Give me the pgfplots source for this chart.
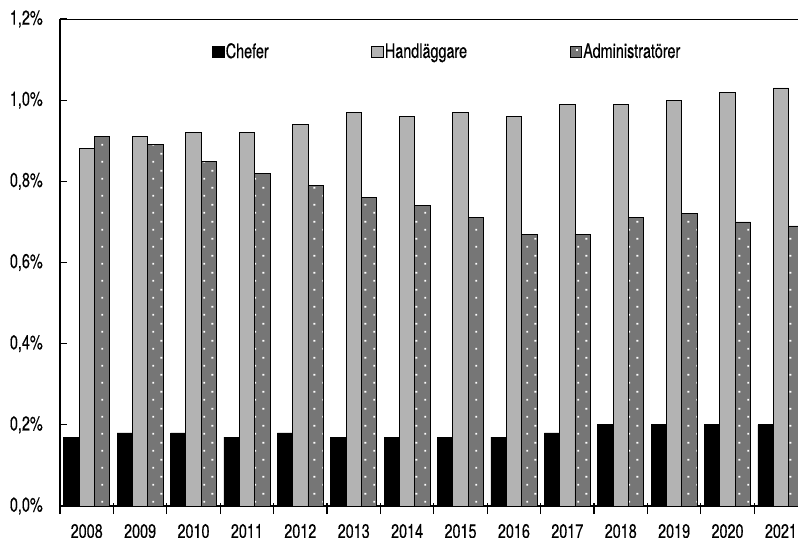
\documentclass[border=0pt]{standalone}
\usepackage{pgfplots}
\pgfplotsset{compat=1.18}
\usepackage{fontspec}
\setmainfont{TeX Gyre Heros}[FakeStretch=0.72, FakeBold=0.4]
\usetikzlibrary{patterns.meta}
\definecolor{hgray}{RGB}{179,179,179}
\definecolor{agray}{RGB}{118,118,118}
\tikzdeclarepattern{
  name=admdots,
  type=uncolored,
  bounding box={(0,0) and (12.5pt,12.75pt)},
  tile size={(12.5pt,12.75pt)},
  code={
    \fill (1pt,1pt) rectangle (2.4pt,2.4pt);
    \fill (7.25pt,7.4pt) rectangle (8.65pt,8.8pt);
  }
}
\begin{document}
\begin{tikzpicture}
\useasboundingbox (-45pt,-23.25pt) rectangle (553.5pt,379.5pt);
\begin{axis}[
  at={(0,0)}, anchor=south west,
  scale only axis, width=553.5pt, height=365.25pt,
  xmin=-0.5, xmax=13.32, ymin=0, ymax=1.2,
  axis x line*=bottom, axis y line*=left,
  axis line style={line width=1.1pt, -},
  ybar, bar width=11.5pt,
  xtick={0,...,13},
  xticklabels={2008,2009,2010,2011,2012,2013,2014,2015,2016,2017,2018,2019,2020,2021},
  major x tick style={draw=none},
  minor xtick={-0.5,0.5,1.5,2.5,3.5,4.5,5.5,6.5,7.5,8.5,9.5,10.5,11.5,12.5},
  minor x tick style={black, line width=0.9pt, yshift=-2pt},
  minor tick length=8pt,
  xtick align=center,
  ytick={0,0.2,0.4,0.6,0.8,1.0,1.2},
  yticklabels={{0,0\%},{0,2\%},{0,4\%},{0,6\%},{0,8\%},{1,0\%},{1,2\%}},
  ytick align=inside,
  major tick length=5pt,
  y tick style={black, line width=0.9pt},
  xticklabel style={font=\fontsize{15}{17}\selectfont, anchor=north, inner sep=0pt, yshift=-10.8pt},
  yticklabel style={font=\fontsize{15}{17}\selectfont, anchor=east, inner sep=0pt, xshift=-12.75pt},
  legend columns=3,
  legend style={draw=none, fill=none, at={(rel axis cs:0.206,0.933)}, anchor=west,
    inner sep=0pt, font=\fontsize{15}{17}\selectfont,
    nodes={inner sep=1pt},
    /tikz/every even column/.append style={column sep=76pt}},
  legend image code/.code={\draw[#1, line width=0.6pt] (0pt,-4.2pt) rectangle (8.5pt,4.2pt);},
]
\addplot[fill=black, draw=black, line width=0.6pt, bar shift=-11.5pt] coordinates {
(0,0.17) (1,0.18) (2,0.18) (3,0.17) (4,0.18) (5,0.17) (6,0.17) (7,0.17) (8,0.17) (9,0.18) (10,0.20) (11,0.20) (12,0.20) (13,0.20)};
\addlegendentry{Chefer}
\addplot[fill=hgray, draw=black, line width=0.6pt, bar shift=0pt] coordinates {
(0,0.88) (1,0.91) (2,0.92) (3,0.92) (4,0.94) (5,0.97) (6,0.96) (7,0.97) (8,0.96) (9,0.99) (10,0.99) (11,1.00) (12,1.02) (13,1.03)};
\addlegendentry{Handläggare}
\addplot[fill=agray, draw=black, line width=0.6pt, bar shift=11.5pt, postaction={pattern=admdots, pattern color=white}] coordinates {
(0,0.91) (1,0.89) (2,0.85) (3,0.82) (4,0.79) (5,0.76) (6,0.74) (7,0.71) (8,0.67) (9,0.67) (10,0.71) (11,0.72) (12,0.70) (13,0.69)};
\addlegendentry{Administratörer}
\draw[line width=1.1pt] (rel axis cs:0,1) -- (rel axis cs:1,1);
\end{axis}
\end{tikzpicture}
\end{document}
